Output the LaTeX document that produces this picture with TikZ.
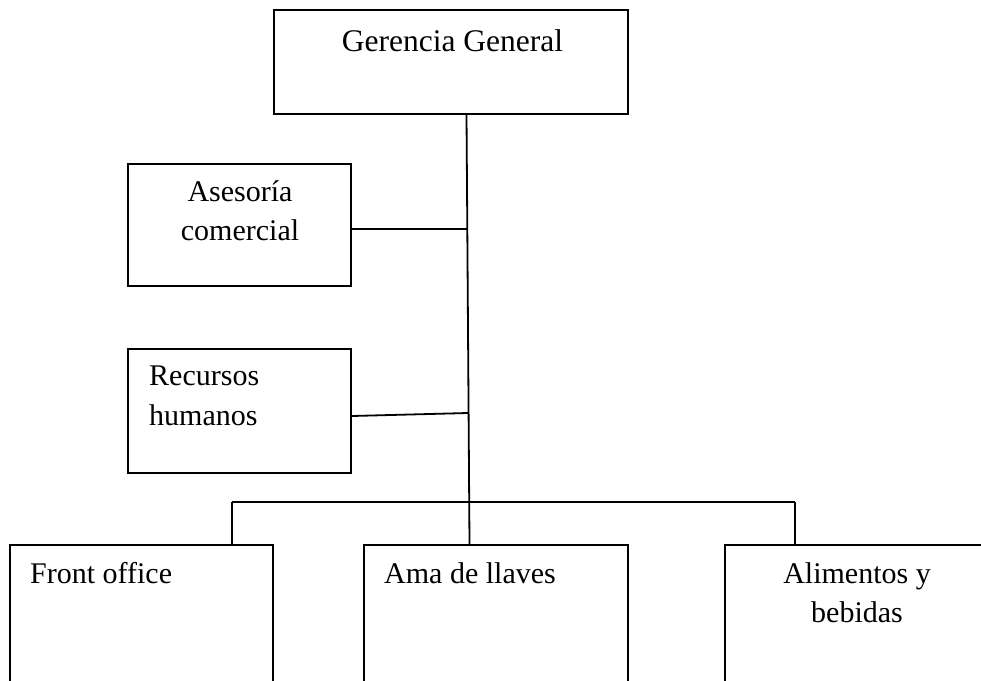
\documentclass[tikz,border=0pt]{standalone}
\usepackage{fontspec}
\setmainfont{Liberation Serif}
\begin{document}
\begin{tikzpicture}[x=1pt,y=-1pt,
  unit/.style={draw=black,line width=1.8pt,rectangle,inner sep=0pt},
  link/.style={draw=black,line width=1.8pt},
  lbl/.style={inner sep=0pt,font=\fontsize{30}{39}\selectfont}]
\useasboundingbox[fill=white] (0,0) rectangle (981,680);

% boxes
\node[unit,minimum width=354pt,minimum height=104pt] (ger) at (451,62) {};
\node[unit,minimum width=223pt,minimum height=122pt] (ase) at (239.5,225) {};
\node[unit,minimum width=223pt,minimum height=124pt] (rrhh) at (239.5,411) {};
\node[unit,minimum width=263pt,minimum height=200pt] (front) at (141.5,645) {};
\node[unit,minimum width=264pt,minimum height=200pt] (ama) at (496,645) {};
\node[unit,minimum width=275pt,minimum height=200pt] (alim) at (862.5,645) {};

% labels (base anchor of a two-line label is the last line's baseline)
\node[lbl,anchor=base,font=\fontsize{31.5}{39}\selectfont] (tger) at (452.5,51) {Gerencia General};
\node[lbl,anchor=base,align=center] (tase) at (240,240) {Asesoría\\comercial};
\node[lbl,anchor=base west,align=left,font=\fontsize{30}{40}\selectfont] (trrhh) at (149,425) {Recursos\\humanos};
\node[lbl,anchor=base west] (tfront) at (30,583) {Front office};
\node[lbl,anchor=base west] (tama) at (384,583) {Ama de llaves};
\node[lbl,anchor=base,align=center] (talim) at (857,622) {Alimentos y\\bebidas};

% junction points
\coordinate (jase) at (467.3,229);
\coordinate (jrrhh) at (468,413);
\coordinate (busl) at (232,502);
\coordinate (busr) at (795,502);

% connectors
\draw[link] ([xshift=15.5pt]ger.south) -- ([xshift=-26.5pt]ama.north);
\draw[link] ([yshift=-4pt]ase.east) -- (jase);
\draw[link] ([yshift=-5pt]rrhh.east) -- (jrrhh);
\draw[link] (busl) -- (busr);
\draw[link] (busl) -- (busl |- front.north);
\draw[link] (busr) -- (busr |- alim.north);
\end{tikzpicture}
\end{document}
